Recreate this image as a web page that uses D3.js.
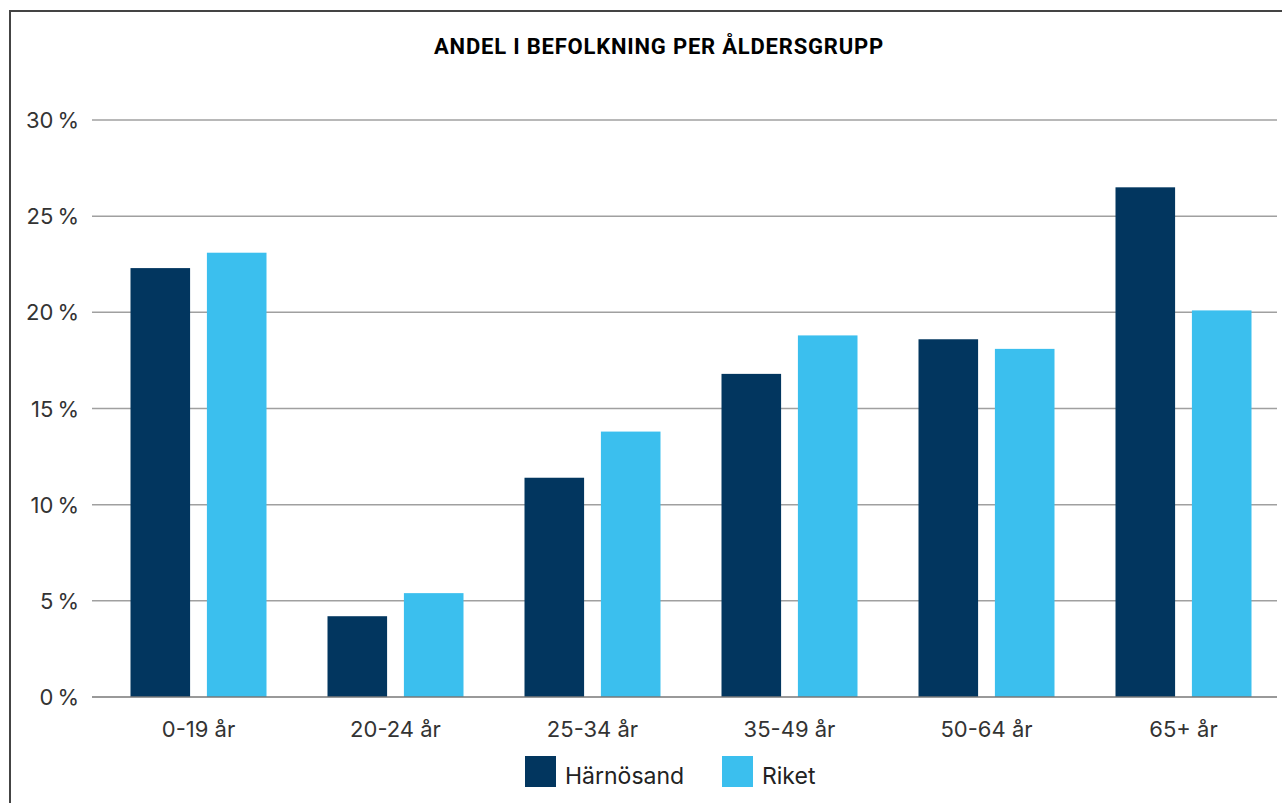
<!DOCTYPE html>
<html>
<head>
<meta charset="utf-8">
<script src="https://cdn.jsdelivr.net/npm/d3@7"></script>
<style>
  body { margin: 0; background: #fff; }
  svg { display: block; font-family: "Inter", "Roboto", sans-serif; }
</style>
</head>
<body>
<div id="chart"></div>
<script>
var categories = ["0-19 år", "20-24 år", "25-34 år", "35-49 år", "50-64 år", "65+ år"];
var harnosand = [22.3, 4.2, 11.4, 16.8, 18.6, 26.5];
var riket = [23.1, 5.4, 13.8, 18.8, 18.1, 20.1];
var seriesNames = ["Härnösand", "Riket"];
var colors = ["#02365f", "#3bbfee"];
var yTicks = [0, 5, 10, 15, 20, 25, 30];

var w = 1282, h = 803;
var svg = d3.select("#chart").append("svg")
  .attr("width", w)
  .attr("height", h);

// frame (top + left)
svg.append("path")
  .attr("d", "M10,803 L10,11 L1282,11")
  .attr("fill", "none")
  .attr("stroke", "#444")
  .attr("stroke-width", 2);

svg.append("text")
  .text("ANDEL I BEFOLKNING PER ÅLDERSGRUPP")
  .attr("x", 659)
  .attr("y", 54)
  .attr("text-anchor", "middle")
  .attr("font-family", "Roboto, sans-serif")
  .attr("font-weight", "bold")
  .attr("font-size", 22)
  .attr("letter-spacing", 0.8)
  .attr("fill", "#000");

var y = d3.scaleLinear().domain([0, 30]).range([697, 120]);
var x = d3.scaleBand().domain(categories).range([100, 1282]);

// grid
svg.append("g").selectAll("line")
  .data(yTicks.filter(function(d){ return d > 0; }))
  .enter().append("line")
    .attr("x1", 92).attr("x2", 1277)
    .attr("y1", function(d){ return y(d); })
    .attr("y2", function(d){ return y(d); })
    .attr("stroke", "#a0a0a0")
    .attr("stroke-width", 1.5);

// y labels
svg.append("g").selectAll("text")
  .data(yTicks)
  .enter().append("text")
    .text(function(d){ return d + "\u202F%"; })
    .attr("x", 79)
    .attr("y", function(d){ return y(d) + 8; })
    .attr("text-anchor", "end")
    .attr("font-size", 22)
    .attr("fill", "#333");

var data = categories.map(function(c, i){
  return { cat: c, vals: [harnosand[i], riket[i]] };
});

var inner = d3.scaleBand().domain([0, 1]).range([-68, 68]).paddingInner(0.22);

var groups = svg.append("g").selectAll("g")
  .data(data)
  .enter().append("g")
    .attr("transform", function(d){ return "translate(" + (x(d.cat) + x.bandwidth() / 2) + ",0)"; });

groups.selectAll("rect")
  .data(function(d){ return d.vals; })
  .enter().append("rect")
    .attr("x", function(d, i){ return inner(i); })
    .attr("width", inner.bandwidth())
    .attr("y", function(d){ return y(d); })
    .attr("height", function(d){ return y(0) - y(d); })
    .attr("fill", function(d, i){ return colors[i]; });

// baseline
svg.append("line")
  .attr("x1", 92).attr("x2", 1277)
  .attr("y1", y(0)).attr("y2", y(0))
  .attr("stroke", "#777")
  .attr("stroke-width", 1.5);

// x labels
svg.append("g").selectAll("text")
  .data(categories)
  .enter().append("text")
    .text(function(d){ return d; })
    .attr("x", function(d){ return x(d) + x.bandwidth() / 2; })
    .attr("y", 737)
    .attr("text-anchor", "middle")
    .attr("font-size", 22)
    .attr("fill", "#333");

// legend
var legendX = [525, 722];
var legend = svg.append("g").selectAll("g")
  .data(seriesNames)
  .enter().append("g")
    .attr("transform", function(d, i){ return "translate(" + legendX[i] + ",756)"; });
legend.append("rect")
  .attr("width", 31).attr("height", 31)
  .attr("fill", function(d, i){ return colors[i]; });
legend.append("text")
  .text(function(d){ return d; })
  .attr("x", 40)
  .attr("y", 28)
  .attr("font-size", 23)
  .attr("fill", "#222");
</script>
</body>
</html>
